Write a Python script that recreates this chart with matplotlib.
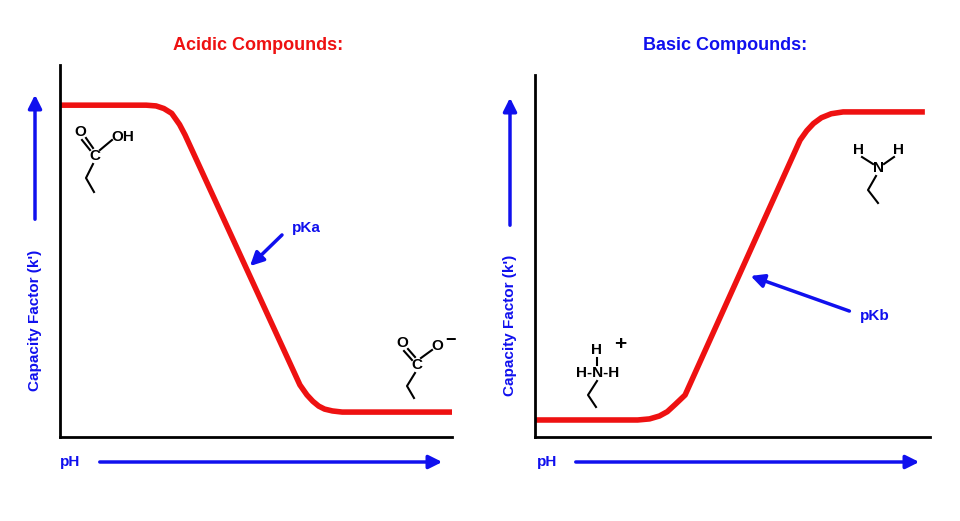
import matplotlib.pyplot as plt

plt.rcParams['font.family'] = ['Liberation Sans', 'DejaVu Sans']

# curve points (pH, k') on a 0-100 scale
acid_ph = [0, 22, 24.5, 26.5, 28.5, 30.5, 31.9, 61.2, 63, 64.5, 66, 67.5, 69.5, 72, 100]
acid_k = [89.2, 89.2, 89.0, 88.3, 87.0, 84.0, 81.2, 14, 11.3, 9.6, 8.3, 7.5, 7.0, 6.7, 6.7]
base_ph = [0, 26, 29, 31.5, 33.5, 35.5, 38, 67.1, 68.8, 70.5, 72.5, 75, 78, 98.7]
base_k = [4.7, 4.7, 5.0, 5.8, 7.0, 9.0, 11.6, 82, 84.6, 86.6, 88.2, 89.3, 89.8, 89.8]

W, H = 960, 521
RED = '#ee1111'
BLUE = '#1010ee'

fig = plt.figure(figsize=(9.6, 5.21), dpi=100)


def px(x, y):
    return x / W, 1 - y / H


def make_ax(x0, x1, y0, y1):
    ax = fig.add_axes([x0 / W, 1 - y1 / H, (x1 - x0) / W, (y1 - y0) / H])
    ax.set_xlim(0, 100)
    ax.set_ylim(0, 100)
    ax.set_xticks([])
    ax.set_yticks([])
    for s in ['top', 'right']:
        ax.spines[s].set_visible(False)
    for s in ['left', 'bottom']:
        ax.spines[s].set_linewidth(2)
    return ax


ax1 = make_ax(60, 452, 65, 437)
ax1.plot(acid_ph, acid_k, color=RED, lw=4, solid_capstyle='butt')
ax2 = make_ax(535, 930, 75, 437)
ax2.plot(base_ph, base_k, color=RED, lw=4, solid_capstyle='butt')

fig.text(*px(258, 45), 'Acidic Compounds:', color=RED, fontsize=13, weight='bold', ha='center', va='center')
fig.text(*px(725, 45), 'Basic Compounds:', color=BLUE, fontsize=13, weight='bold', ha='center', va='center')


def arrow(x0, y0, x1, y1, lw=2.5, hw=10):
    fig.add_artist(plt.matplotlib.patches.FancyArrowPatch(
        px(x0, y0), px(x1, y1), transform=fig.transFigure, color=BLUE,
        arrowstyle='-|>,head_length=0.8,head_width=0.4', lw=lw, mutation_scale=hw))


for xt, xa, xe in [(70, 97, 445), (547, 573, 922)]:
    fig.text(*px(xt, 462), 'pH', color=BLUE, fontsize=11, weight='bold', ha='center', va='center')
    arrow(xa, 462, xe, 462)
for x, ytxt, ybot, ytop in [(35, 320, 222, 92), (510, 325, 228, 95)]:
    fig.text(*px(x, ytxt), "Capacity Factor (k')", color=BLUE, fontsize=11, weight='bold',
             rotation=90, ha='center', va='center')
    arrow(x, ybot, x, ytop)

fig.text(*px(292, 228), 'pKa', color=BLUE, fontsize=11, weight='bold', va='center')
arrow(284, 233, 248, 268)
fig.text(*px(860, 316), 'pKb', color=BLUE, fontsize=11, weight='bold', va='center')
arrow(852, 312, 748, 275)


def t(x, y, s, fs=11):
    fig.text(*px(x, y), s, fontsize=fs, weight='bold', ha='center', va='center')


def line(pts):
    xs = [p[0] / W for p in pts]
    ys = [1 - p[1] / H for p in pts]
    fig.add_artist(plt.Line2D(xs, ys, transform=fig.transFigure, color='black', lw=1.5))


# acid structure
t(80, 132, 'O'); t(95, 156, 'C'); t(123, 137, 'OH')
line([(82, 140), (90, 150)]); line([(86, 138), (93, 148)])
line([(100, 150), (112, 140)]); line([(93, 164), (86, 178), (94, 192)])
# carboxylate
t(402, 343, 'O'); t(417, 365, 'C'); t(437, 346, 'O'); t(451, 340, '\u2212', 13)
line([(404, 351), (412, 360)]); line([(408, 349), (415, 357)])
line([(421, 358), (432, 350)]); line([(415, 373), (407, 386), (414, 398)])
# ammonium
t(597, 350, 'H'); t(620, 345, '+', 15); t(598, 373, 'H-N-H')
line([(597, 358), (597, 365)]); line([(597, 381), (588, 395), (596, 407)])
# amine
t(858, 150, 'H'); t(898, 150, 'H'); t(878, 168, 'N')
line([(862, 157), (873, 164)]); line([(894, 157), (884, 164)])
line([(876, 176), (868, 190), (878, 203)])

fig.savefig('out.png', dpi=100)
